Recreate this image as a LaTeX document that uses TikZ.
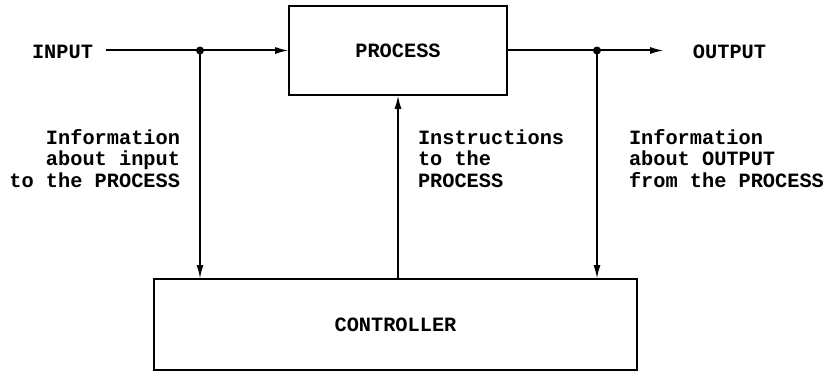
\documentclass[tikz,border=0pt]{standalone}
\usepackage{fontspec}
\setmonofont{Liberation Mono}
\usetikzlibrary{arrows.meta}

\begin{document}
\begin{tikzpicture}[x=1pt, y=-1pt, inner sep=0pt, outer sep=0pt,
    every node/.append style={font=\fontsize{20.3}{21.5}\selectfont\ttfamily\bfseries},
    blockbox/.style={draw=black, line width=2.6pt},
    flowline/.style={draw=black, line width=2pt},
    flowarrow/.style={flowline, -{Latex[length=14pt, width=7pt]}},
    tapdot/.style={fill=black}]
  \useasboundingbox (0,0) rectangle (830,377);

  % blocks
  \node[blockbox, minimum width=218pt, minimum height=89pt] (process) at (398,50.5) {PROCESS};
  \node[blockbox, minimum width=483pt, minimum height=91pt] (controller) at (395.5,324.5) {CONTROLLER};

  % input and output labels
  \node (input) at (62.5,52) {INPUT};
  \node (output) at (729.5,52) {OUTPUT};
  \coordinate (inputstart) at (106,50.5);
  \coordinate (outputend) at (664,50.5);
  \coordinate (inputtap) at (200,50.5);
  \coordinate (outputtap) at (597,50.5);

  % main flow
  \draw[flowarrow] (inputstart) -- (process.west);
  \draw[flowarrow] (process.east) -- (outputend);
  \fill[tapdot] (inputtap) circle (4pt);
  \fill[tapdot] (outputtap) circle (4pt);

  % feedback and feedforward
  \draw[flowarrow] (inputtap) -- (inputtap |- controller.north);
  \draw[flowarrow] (outputtap) -- (outputtap |- controller.north);
  \draw[flowarrow] (process.south |- controller.north) -- (process.south);

  % labels
  \node[anchor=east, align=right] (infoinput) at (180,158.5) {Information\\about input\\to the PROCESS};
  \node[anchor=west, align=left] (instructions) at (418,158.5) {Instructions\\to the\\PROCESS};
  \node[anchor=west, align=left] (infooutput) at (629,158.5) {Information\\about OUTPUT\\from the PROCESS};

\end{tikzpicture}
\end{document}
